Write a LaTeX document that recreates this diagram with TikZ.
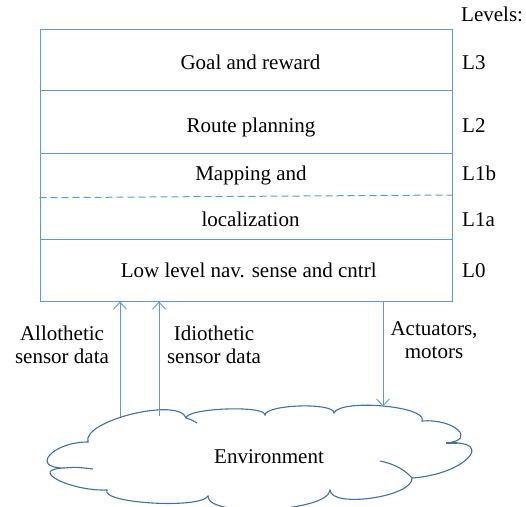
\documentclass[tikz,border=0pt]{standalone}
\usepackage{fontspec}
\setmainfont{Liberation Serif}
\usetikzlibrary{arrows.meta}
\definecolor{boxblue}{HTML}{5B9BD5}
\definecolor{cloudblue}{HTML}{41719C}

\begin{document}
\begin{tikzpicture}[x=1pt,y=-1pt,
  layer/.style={draw=boxblue, line width=1pt, minimum width=412pt, inner sep=0pt},
  lbl/.style={font=\fontsize{21}{23}\selectfont, anchor=base, inner sep=0pt},
  lvl/.style={lbl, anchor=base west},
  twoline/.style={font=\fontsize{21}{23}\selectfont, align=center, inner sep=0pt},
  flow/.style={draw=boxblue, line width=0.9pt, -{Straight Barb[length=7pt,width=13pt]}},
  divider/.style={draw=boxblue, line width=1pt, dash pattern=on 7pt off 4pt},
  cloudline/.style={draw=cloudblue, line width=1.1pt}]

\useasboundingbox (0,0) rectangle (526,506);
\fill[white] (0,0) rectangle (526,506);
\clip (0,0) rectangle (526,506);

% the stack of control layers
\node[layer, minimum height=61pt] (rowL3) at (246,59.5) {};
\node[layer, minimum height=63pt] (rowL2) at (246,121.5) {};
\node[layer, minimum height=86pt] (rowL1) at (246,196) {};
\node[layer, minimum height=62pt] (rowL0) at (246,270) {};
\draw[divider] ([yshift=-1.7pt]rowL1.west) -- ([yshift=1pt]rowL1.east);

\node[lbl] (tL3)  at (250.5,69)  {Goal and reward};
\node[lbl] (tL2)  at (251,132.3) {Route planning};
\node[lbl] (tL1b) at (251,180)   {Mapping and};
\node[lbl] (tL1a) at (250.5,226) {localization};
\node[lbl] (tL0)  at (248.7,277.3) {Low level nav. sense and cntrl};

% level names
\node[lvl] (lvls) at (461,21)    {Levels:};
\node[lvl] (nL3)  at (462,69)    {L3};
\node[lvl] (nL2)  at (462,132.3) {L2};
\node[lvl] (nL1b) at (462,180)   {L1b};
\node[lvl] (nL1a) at (462,226)   {L1a};
\node[lvl] (nL0)  at (462,277.3) {L0};

% the environment cloud
\path[cloudline, fill=white]
  (88,442) .. controls (81.3,420.7) and (179.3,396.7) .. (186,418)
  .. controls (186.7,408) and (265.7,405) .. (265,415)
  .. controls (265.7,404.3) and (334.7,402.3) .. (334,413)
  .. controls (340.7,398.3) and (428.7,406.3) .. (422,421)
  .. controls (454,418.3) and (478,440.3) .. (446,443)
  .. controls (498,439.7) and (464,474.7) .. (412,478)
  .. controls (413.3,496.7) and (331.3,508.7) .. (330,490)
  .. controls (328.7,512) and (206.7,518) .. (208,496)
  .. controls (200.7,509.3) and (99.7,503.3) .. (107,490)
  .. controls (70.3,491.3) and (27.3,469.3) .. (64,468)
  .. controls (30,468) and (52,442) .. (88,442) -- cycle;
% inner folds of the cloud
\draw[cloudline] (186,418) .. controls (190,419) .. (197,423);
\draw[cloudline] (446,443) .. controls (451,443.5) .. (457,443);
\draw[cloudline] (380,461) .. controls (395,464) and (405,470) .. (412,478);
\draw[cloudline] (64,468) .. controls (76,467) .. (93,469);

\node[font=\fontsize{21}{23}\selectfont, inner sep=0pt, anchor=base] (env) at (269,463) {Environment};

% sensing and acting connectors
\coordinate (allo) at (120,417);
\coordinate (idio) at (159,416);
\coordinate (act)  at (383,406.5);
\draw[flow] (allo) -- (allo |- rowL0.south);
\draw[flow] (idio) -- (idio |- rowL0.south);
\draw[flow] (act |- rowL0.south) -- (act);

\node[twoline] (lallo) at (62,345)  {Allothetic\\sensor data};
\node[twoline] (lidio) at (214,345) {Idiothetic\\sensor data};
\node[twoline] (lact)  at (434,340) {Actuators,\\motors};

\end{tikzpicture}
\end{document}
